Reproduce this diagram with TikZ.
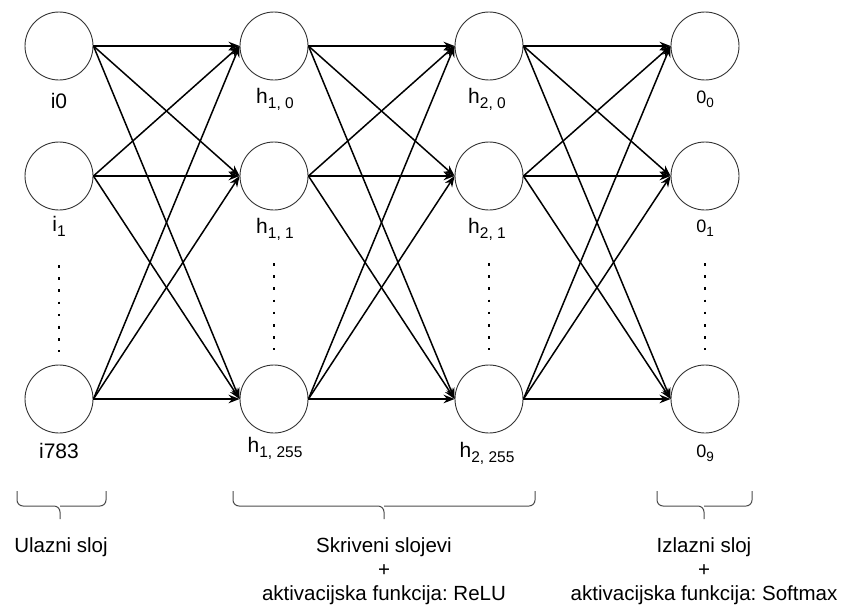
\documentclass[tikz,border=0pt]{standalone}
\usepackage{fontspec}
\setmainfont{Liberation Sans}
\usetikzlibrary{arrows.meta}
\frenchspacing
\newcommand{\lsub}[1]{\raisebox{-5pt}{\fontsize{15.5}{18}\selectfont #1}}
\newcommand{\osub}[1]{\raisebox{-4pt}{\fontsize{13.5}{16}\selectfont #1}}
\tikzstyle{neuron} = [draw=black!80, line width=0.9pt, circle,
    minimum size=68pt, inner sep=0pt]
\tikzstyle{conn} = [draw=black, line width=1.5pt, -{Stealth[length=11pt,width=8.5pt]}]
\tikzstyle{lbl} = [anchor=base, inner sep=0pt, font=\fontsize{21}{25}\selectfont]
\tikzstyle{olbl} = [anchor=base, inner sep=0pt, font=\fontsize{18}{22}\selectfont]
\tikzstyle{dotline} = [line width=2.6pt, dash pattern=on 2.6pt off 9.6pt]
\tikzstyle{layerbrace} = [draw=black!70, line width=1pt, rounded corners=6pt]
\tikzstyle{caption} = [anchor=north, inner sep=0pt, align=center,
    font=\fontsize{20.5}{24}\selectfont]

\begin{document}
\begin{tikzpicture}[x=1pt,y=-1pt]
                \useasboundingbox (0,0) rectangle (845,605);
                % ulazni sloj
                \node[neuron] (in0) at (59,46) {};
                \node[neuron] (in1) at (59,176) {};
                \node[neuron] (in2) at (59,399) {};
                % skriveni slojevi
                \node[neuron] (ha0) at (274,46) {};
                \node[neuron] (ha1) at (274,176) {};
                \node[neuron] (ha2) at (274,399) {};
                \node[neuron] (hb0) at (489,46) {};
                \node[neuron] (hb1) at (489,176) {};
                \node[neuron] (hb2) at (489,399) {};
                % izlazni sloj
                \node[neuron] (out0) at (705,46) {};
                \node[neuron] (out1) at (705,176) {};
                \node[neuron] (out2) at (705,399) {};
                % veze
                \foreach \a/\b in {in/ha, ha/hb, hb/out}
                    \foreach \s in {0,1,2}
                        \foreach \t in {0,1,2}
                            \draw[conn] (\a\s.east) -- (\b\t.west);
                % oznake
                \node[lbl] (lin0) at (59,108) {i0};
                \node[lbl] (lin1) at (59,231) {i\lsub{1}};
                \node[lbl] (lin2) at (59,458) {i783};
                \node[lbl] (lha0) at (275,103) {h\lsub{1, 0}};
                \node[lbl] (lha1) at (275,233) {h\lsub{1, 1}};
                \node[lbl] (lha2) at (275,452) {h\lsub{1, 255}};
                \node[lbl] (lhb0) at (487,103) {h\lsub{2, 0}};
                \node[lbl] (lhb1) at (487,233) {h\lsub{2, 1}};
                \node[lbl] (lhb2) at (487,457) {h\lsub{2, 255}};
                \node[olbl] (lout0) at (705,103) {0\osub{0}};
                \node[olbl] (lout1) at (705,232) {0\osub{1}};
                \node[olbl] (lout2) at (705,457) {0\osub{9}};
                % tockice
                \draw[dotline] (59,265) -- (59,352);
                \draw[dotline] (274,263) -- (274,350);
                \draw[dotline] (489,263) -- (489,350);
                \draw[dotline] (705,263) -- (705,350);
                % zagrade
                \draw[layerbrace] (17,491) |- (60,506) -- (60,519);
                \draw[layerbrace] (106,491) |- (60,506);
                \draw[layerbrace] (233,491) |- (384,506) -- (384,519);
                \draw[layerbrace] (535,491) |- (384,506);
                \draw[layerbrace] (657,491) |- (704,506) -- (704,519);
                \draw[layerbrace] (752,491) |- (704,506);
                % opisi
                \node[caption] (cin) at (61,537) {Ulazni sloj};
                \node[caption] (chid) at (384,537) {Skriveni slojevi\\+\\aktivacijska funkcija: ReLU};
                \node[caption] (cout) at (704,537) {Izlazni sloj\\+\\aktivacijska funkcija: Softmax};
            \end{tikzpicture}
\end{document}
